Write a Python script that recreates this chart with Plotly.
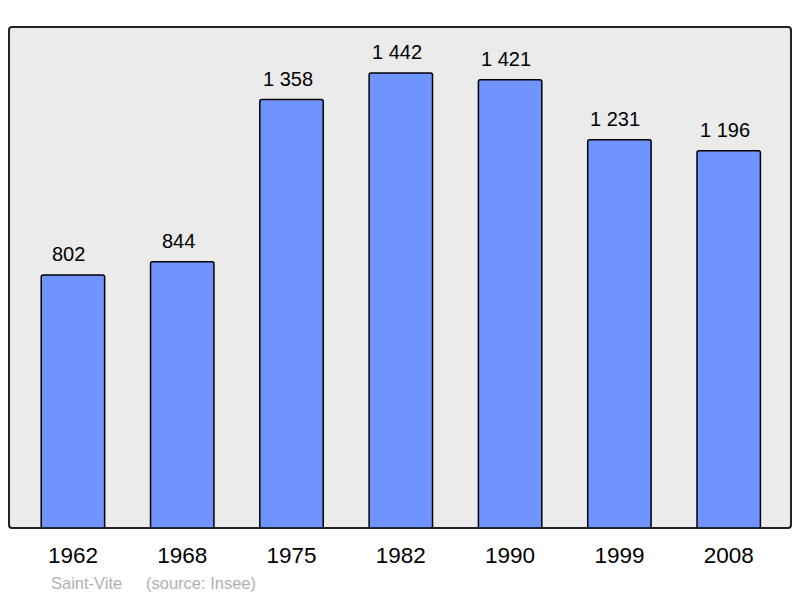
import plotly.graph_objects as go

years = ["1962", "1968", "1975", "1982", "1990", "1999", "2008"]
population = [802, 844, 1358, 1442, 1421, 1231, 1196]
value_labels = ["802", "844", "1 358", "1 442", "1 421", "1 231", "1 196"]
place = "Saint-Vite"
source = "(source: Insee)"

FONT = "Liberation Sans, Arial, sans-serif"

# page body has an 8px margin; figure is sized to fit the 800x598 window
fig = go.Figure()
fig.add_trace(go.Bar(
    x=list(range(len(years))),
    y=population,
    width=0.58,
    marker=dict(color="#7094ff", line=dict(color="#000000", width=1.5), cornerradius=2),
    hoverinfo="skip",
))

annotations = []
for i, (v, lab) in enumerate(zip(population, value_labels)):
    annotations.append(dict(
        x=i, y=v, xref="x", yref="y", text=lab, showarrow=False,
        yanchor="middle", xanchor="center", yshift=21, xshift=-4,
        font=dict(family=FONT, size=20, color="#000000"),
    ))

PW, PH = 782, 501
annotations += [
    dict(text=place, xref="paper", yref="paper", x=(49 - 9) / PW, y=(528 - 583) / PH,
         xanchor="left", yanchor="middle", showarrow=False,
         font=dict(family=FONT, size=16.5, color="#b0b0b0")),
    dict(text=source, xref="paper", yref="paper", x=(144 - 9) / PW, y=(528 - 583) / PH,
         xanchor="left", yanchor="middle", showarrow=False,
         font=dict(family=FONT, size=16.5, color="#b0b0b0")),
]

fig.update_layout(
    width=792, height=590,
    margin=dict(l=1, r=9, t=19, b=70, autoexpand=False),
    paper_bgcolor="#ffffff",
    plot_bgcolor="rgba(0,0,0,0)",
    showlegend=False,
    xaxis=dict(
        range=[-0.585, 6.57],
        tickmode="array",
        tickvals=list(range(len(years))),
        ticktext=years,
        tickfont=dict(family=FONT, size=22.5, color="#000000"),
        showgrid=False, zeroline=False, showline=False,
        ticks="", ticklabelstandoff=11, fixedrange=True,
    ),
    yaxis=dict(
        range=[0, 1588],
        showticklabels=False, showgrid=False, zeroline=False, showline=False,
        fixedrange=True,
    ),
    shapes=[dict(
        type="path", xref="paper", yref="paper", layer="below",
        path="M 0,0.006 L 0,0.994 Q 0,1 0.004,1 L 0.996,1 Q 1,1 1,0.994 L 1,0.006 Q 1,0 0.996,0 L 0.004,0 Q 0,0 0,0.006 Z",
        fillcolor="#ebebeb", line=dict(color="#222222", width=2),
    )],
    annotations=annotations,
)

fig.write_html("out.html", config={"displayModeBar": False})
